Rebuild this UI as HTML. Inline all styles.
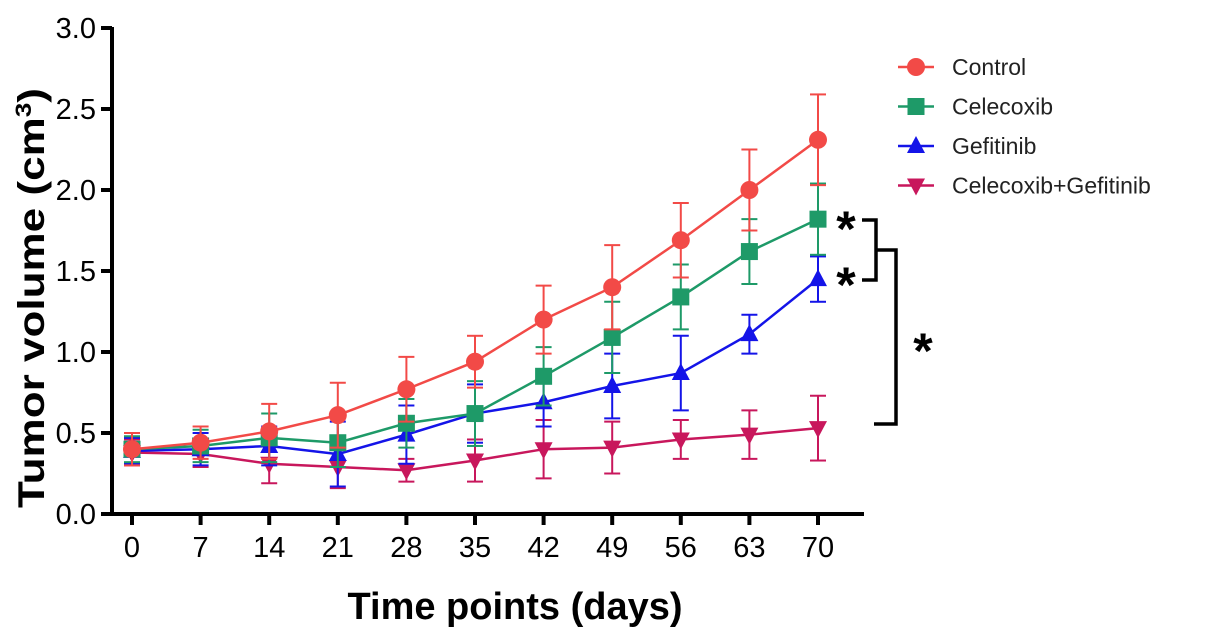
<!DOCTYPE html>
<html><head><meta charset="utf-8"><style>
body{margin:0;background:#fff;}
svg{display:block;font-family:"Liberation Sans",Arial,sans-serif;}
</style></head><body>
<svg id="chart" width="1205" height="638">
<g id="axes"></g><g id="series"></g><g id="legend"></g><g id="sig"></g>
</svg>
<script>
const days=[0,7,14,21,28,35,42,49,56,63,70];
const yTicks=[0,0.5,1.0,1.5,2.0,2.5,3.0];
const seriesNames=["Control","Celecoxib","Gefitinib","Celecoxib+Gefitinib"];
const controlVals=[0.40,0.44,0.51,0.61,0.77,0.94,1.20,1.40,1.69,2.00,2.31];
const controlErr=[0.10,0.10,0.17,0.20,0.20,0.16,0.21,0.26,0.23,0.25,0.28];
const celecoxibVals=[0.40,0.42,0.47,0.44,0.56,0.62,0.85,1.09,1.34,1.62,1.82];
const celecoxibErr=[0.08,0.10,0.15,0.15,0.15,0.20,0.18,0.22,0.20,0.20,0.22];
const gefitinibVals=[0.39,0.40,0.42,0.37,0.49,0.62,0.69,0.79,0.87,1.11,1.45];
const gefitinibErr=[0.08,0.10,0.12,0.20,0.18,0.18,0.15,0.20,0.23,0.12,0.14];
const comboVals=[0.38,0.37,0.31,0.29,0.27,0.33,0.40,0.41,0.46,0.49,0.53];
const comboErr=[0.08,0.08,0.12,0.13,0.07,0.13,0.18,0.16,0.12,0.15,0.20];

const NS="http://www.w3.org/2000/svg";
const X=d=>132+(d/70)*686;
const Y=v=>514-v*162;
function mk(tag,attrs,parent,txt){const e=document.createElementNS(NS,tag);for(const k in attrs)e.setAttribute(k,attrs[k]);if(txt!==undefined)e.textContent=txt;parent.appendChild(e);return e;}
const axes=document.getElementById('axes');
let e;
e=mk('line',{x1:112,y1:Y(3)-1,x2:112,y2:516,stroke:'#000','stroke-width':4},axes);


e=mk('line',{x1:110,y1:514,x2:864,y2:514,stroke:'#000','stroke-width':4},axes);


yTicks.forEach(t=>{
 mk('line',{x1:101,y1:Y(t),x2:112,y2:Y(t),stroke:'#000','stroke-width':4},axes);
 e=mk('text',{x:96,y:Y(t)+10,'text-anchor':'end','font-size':29},axes,t.toFixed(1));
 
 
});
days.forEach(d=>{
 mk('line',{x1:X(d),y1:514,x2:X(d),y2:525,stroke:'#000','stroke-width':4},axes);
 e=mk('text',{x:X(d),y:557,'text-anchor':'middle','font-size':29},axes,d);
 
 
});
e=mk('text',{x:515,y:619,'text-anchor':'middle','font-size':38,'font-weight':'bold'},axes,'Time points (days)');


e=mk('text',{x:-210,y:0,'font-size':37,'font-weight':'bold',transform:'translate(44,298) rotate(-90)',textLength:420,lengthAdjust:'spacingAndGlyphs'},axes);
e.innerHTML='Tumor volume (cm<tspan dy="-13" font-size="22">3</tspan><tspan dy="13">)</tspan>';



const colors=["#f24a47","#1e9a68","#1414e8","#c8175c"];
const vals=[controlVals,celecoxibVals,gefitinibVals,comboVals];
const errs=[controlErr,celecoxibErr,gefitinibErr,comboErr];
const shapes=["circle","square","tri","tridown"];
function marker(s,x,y,c,p){
 if(s==="circle")return mk('circle',{cx:x,cy:y,r:9,fill:c},p);
 if(s==="square")return mk('rect',{x:x-8.5,y:y-8.5,width:17,height:17,fill:c},p);
 if(s==="tri")return mk('polygon',{points:`${x},${y-10} ${x-9},${y+7} ${x+9},${y+7}`,fill:c},p);
 return mk('polygon',{points:`${x},${y+10} ${x-9},${y-7} ${x+9},${y-7}`,fill:c},p);
}
const sg=document.getElementById('series');
[3,2,1,0].forEach(i=>{
 const g=mk('g',{},sg);
 
 
 const c=colors[i];
 days.forEach((d,j)=>{
  const x=X(d),y1=Y(vals[i][j]-errs[i][j]),y2=Y(vals[i][j]+errs[i][j]);
  mk('line',{x1:x,y1:y1,x2:x,y2:y2,stroke:c,'stroke-width':2},g);
  mk('line',{x1:x-8,y1:y1,x2:x+8,y2:y1,stroke:c,'stroke-width':2},g);
  mk('line',{x1:x-8,y1:y2,x2:x+8,y2:y2,stroke:c,'stroke-width':2},g);
 });
 mk('polyline',{points:days.map((d,j)=>X(d)+','+Y(vals[i][j])).join(' '),fill:'none',stroke:c,'stroke-width':2.5},g);
 days.forEach((d,j)=>{
  const m=marker(shapes[i],X(d),Y(vals[i][j]),c,g);
  
  
 });
});
const lg=document.getElementById('legend');
seriesNames.forEach((n,i)=>{
 const y=67+i*39.5;
 const g=mk('g',{},lg);
 
 
 mk('line',{x1:898,y1:y,x2:934,y2:y,stroke:colors[i],'stroke-width':2.5},g);
 marker(shapes[i],916,y,colors[i],g);
 mk('text',{x:952,y:y+8,'font-size':23,fill:'#222'},g,n);
});
const sig=document.getElementById('sig');
mk('polyline',{points:'862,220 876,220 876,280 862,280',fill:'none',stroke:'#000','stroke-width':3.5},sig);
mk('polyline',{points:'876,250 896,250 896,424 874,424',fill:'none',stroke:'#000','stroke-width':3.5},sig);
[[846,246],[846,302],[923,368]].forEach(p=>{
 e=mk('text',{x:p[0],y:p[1],'text-anchor':'middle','font-size':50,'font-weight':'bold'},sig,'*');
 
 
});
</script>
</body></html>
